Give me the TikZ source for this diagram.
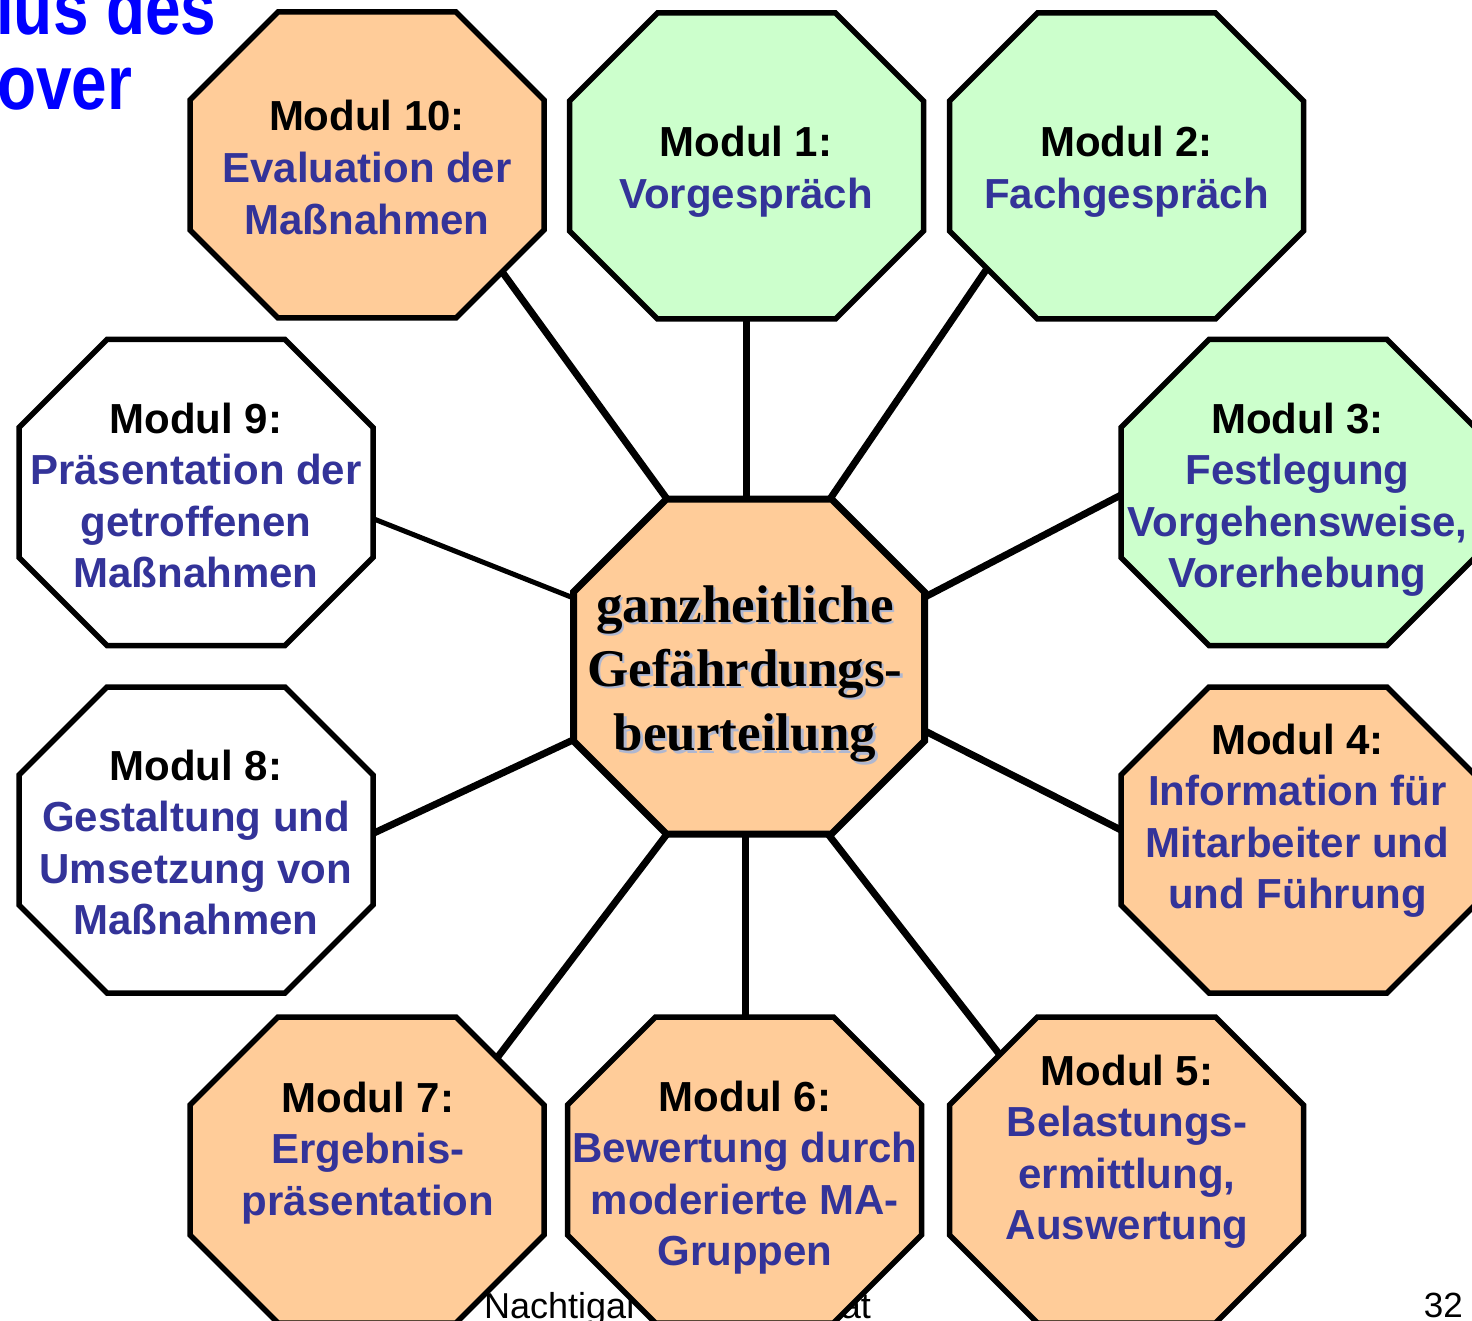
\documentclass[tikz,border=0pt]{standalone}
\usepackage{fontspec}
\usepackage{graphicx}
\setmainfont{Liberation Sans}
\newfontfamily\timesfam{Liberation Serif}
\usetikzlibrary{calc}

\definecolor{peach}{RGB}{255,204,153}
\definecolor{mint}{RGB}{204,255,204}
\definecolor{navytext}{RGB}{51,51,153}
\definecolor{titleblue}{RGB}{0,0,255}
\definecolor{shade}{RGB}{175,183,208}

% octagon: style, centre x, centre y, half width, half height, corner cut
\newcommand\octagon[6]{%
  \path[#1,shift={(#2,#3)}]
    ({-#4+#6},{-#5}) -- ({#4-#6},{-#5}) -- ({#4},{-#5+#6}) -- ({#4},{#5-#6})
    -- ({#4-#6},{#5}) -- ({-#4+#6},{#5}) -- ({-#4},{#5-#6}) -- ({-#4},{-#5+#6}) -- cycle;}
% module label: black heading, coloured body lines
\newcommand\modtext[2]{\begin{tabular}[t]{@{}c@{}}\textcolor{black}{#1}\\#2\end{tabular}}
\newcommand\hubtext{\begin{tabular}[t]{@{}c@{}}ganzheitliche\\Gefährdungs-\\beurteilung\end{tabular}}

\begin{document}
\begin{tikzpicture}[x=1pt,y=-1pt,
  box/.style={line width=5.5pt,draw=black},
  peachbox/.style={box,fill=peach},
  mintbox/.style={box,fill=mint},
  plainbox/.style={box,fill=white},
  hubbox/.style={line width=7pt,draw=black,fill=peach},
  link/.style={line width=7pt,draw=black},
  thinlink/.style={line width=5pt,draw=black},
  modlabel/.style={anchor=base,inner sep=0pt,text=navytext,
    font=\bfseries\fontsize{42}{51.6}\selectfont},
  hublabel/.style={anchor=base,inner sep=0pt,
    font=\timesfam\bfseries\fontsize{53}{64.3}\selectfont},
  foot/.style={inner sep=0pt,text=black,font=\fontsize{36}{36}\selectfont},
  headline/.style={anchor=base west,inner sep=0pt,text=titleblue,
    font=\bfseries\fontsize{77}{77}\selectfont},
 ]
\useasboundingbox (0,0) rectangle (1472,1321);
\clip (0,0) rectangle (1472,1321);

% footer line of the page, partly hidden behind the octagons
\node[foot,anchor=base west] (foot1) at (484,1318) {Nachtigal};
\node[foot,anchor=base east] (foot2) at (871,1318) {at};
\node[foot,anchor=base east,font=\fontsize{35}{35}\selectfont] (page) at (1463,1317) {32};

% connector end points on the central octagon
\coordinate (hub-n)  at (746,499);
\coordinate (hub-nw) at (667,499);
\coordinate (hub-ne) at (830,499);
\coordinate (hub-en) at (925,597);
\coordinate (hub-es) at (925,731);
\coordinate (hub-se) at (828,834);
\coordinate (hub-s)  at (745,834);
\coordinate (hub-sw) at (667,834);
\coordinate (hub-ws) at (573,740);
\coordinate (hub-wn) at (571,597);
% connector end points on the module octagons
\coordinate (m10-end) at (503,273);
\coordinate (m1-end)  at (746,319);
\coordinate (m2-end)  at (986,270);
\coordinate (m3-end)  at (1121,495);
\coordinate (m4-end)  at (1121,830);
\coordinate (m5-end)  at (1000,1055);
\coordinate (m6-end)  at (745,1017);
\coordinate (m7-end)  at (497,1058);
\coordinate (m8-end)  at (374,833);
\coordinate (m9-end)  at (374,519);

\draw[link] (hub-nw) -- (m10-end);
\draw[link] (hub-n)  -- (m1-end);
\draw[link] (hub-ne) -- (m2-end);
\draw[link] (hub-en) -- (m3-end);
\draw[link] (hub-es) -- (m4-end);
\draw[link] (hub-se) -- (m5-end);
\draw[link] (hub-s)  -- (m6-end);
\draw[link] (hub-sw) -- (m7-end);
\draw[link] (hub-ws) -- (m8-end);
\draw[thinlink] (hub-wn) -- (m9-end);

% octagons
\octagon{hubbox}{749}{666.5}{175.5}{167.5}{93}
\octagon{peachbox}{367}{165}{177}{153}{88}
\octagon{mintbox}{746.5}{166}{177}{153}{88}
\octagon{mintbox}{1126.5}{166}{177}{153}{88}
\octagon{mintbox}{1298}{492.5}{177}{153}{88}
\octagon{peachbox}{1298}{840}{177}{153}{88}
\octagon{peachbox}{1126.5}{1170}{177}{153}{88}
\octagon{peachbox}{744.5}{1170}{177}{153}{88}
\octagon{peachbox}{367}{1170}{177}{153}{88}
\octagon{plainbox}{196}{840}{177}{153}{88}
\octagon{plainbox}{196}{492.5}{177}{153}{88}

% labels
\node[hublabel,text=shade] (hubshadow) at (747.5,624.5) {\hubtext};
\node[hublabel] (hub) at (745,622) {\hubtext};

\node[modlabel] (m10) at (367,131) {\modtext{Modul 10:}{Evaluation der\\Maßnahmen}};
\node[modlabel] (m1) at (746,157) {\modtext{Modul 1:}{Vorgespräch}};
\node[modlabel] (m2) at (1126.5,157) {\modtext{Modul 2:}{Fachgespräch}};
\node[modlabel] (m3) at (1297.5,433) {\modtext{Modul 3:}{Festlegung\hspace{0.28em}\\Vorgehensweise,\\Vorerhebung}};
\node[modlabel] (m4) at (1297.5,754) {\modtext{Modul 4:}{Information für\\Mitarbeiter und\\und Führung}};
\node[modlabel] (m5) at (1127,1085) {\modtext{Modul 5:}{Belastungs-\\ermittlung,\\Auswertung}};
\node[modlabel] (m6) at (745,1111) {\modtext{Modul 6:}{Bewertung durch\\moderierte MA-\\Gruppen}};
\node[modlabel] (m7) at (368,1112) {\modtext{Modul 7:}{Ergebnis-\\präsentation}};
\node[modlabel] (m8) at (196,780) {\modtext{Modul 8:}{Gestaltung und\hspace{0.28em}\\Umsetzung von\\Maßnahmen}};
\node[modlabel] (m9) at (196,433) {\modtext{Modul 9:}{Präsentation der\hspace{0.28em}\\getroffenen\\Maßnahmen}};

% heading fragment in the top left corner
\node[headline] (head1) at (-4,35) {\scalebox{0.83}[1]{lus des}};
\node[headline] (head2) at (-3,110) {\scalebox{0.83}[1]{over}};
\end{tikzpicture}
\end{document}
